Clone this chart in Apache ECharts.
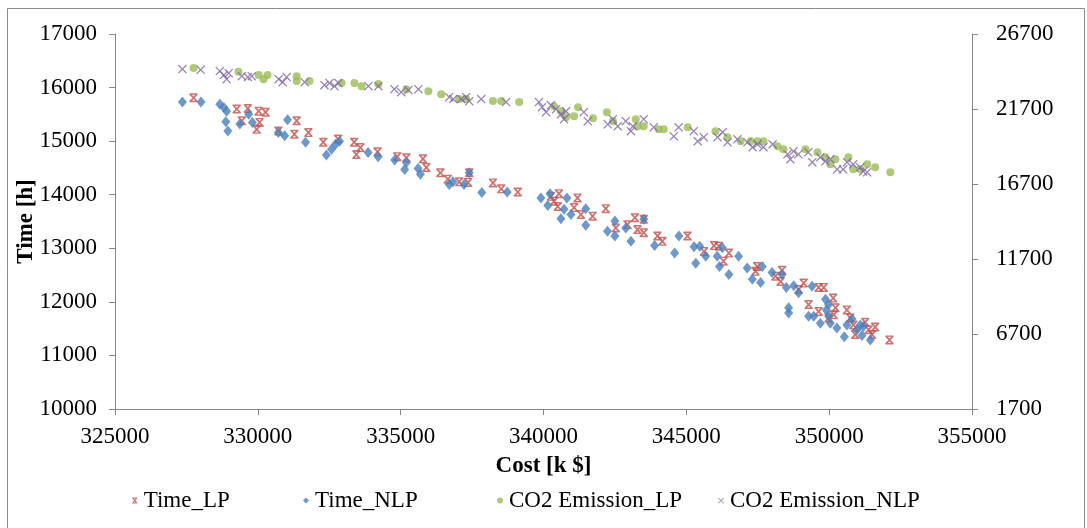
<!DOCTYPE html>
<html><head><meta charset="utf-8">
<script src="https://cdn.jsdelivr.net/npm/echarts@6/dist/echarts.min.js"></script>
<style>html,body{margin:0;padding:0;background:#fff}#c{width:1087px;height:528px}</style>
</head><body><div id="c"></div>
<script>
// ---- data ----
const timeLPCost = [327750,329260,329650,329440,330030,330270,330060,329960,330720,331360,
331280,331770,332290,332810,333370,333590,333450,334190,334880,335200,
335780,335900,336390,336650,337050,337360,337400,338230,338520,339100,
340260,340540,340370,341190,340500,341070,341310,341720,342180,342530,
342940,343200,343290,343510,343510,343990,344160,345040,345620,345970,
346140,346300,346490,347480,347420,348350,348120,348300,349110,348930,
349630,349810,349280,349630,350140,350220,349980,350160,350620,350740,
350850,350910,351260,351380,351500,351610,352110];
const timeLP = [15810,15600,15610,15380,15560,15540,15350,15220,15190,15380,
15130,15160,14980,15040,14980,14880,14750,14800,14710,14690,
14670,14510,14410,14290,14240,14230,14410,14220,14110,14050,
13970,14020,13880,13940,13780,13760,13630,13600,13740,13380,
13440,13570,13350,13290,13540,13230,13130,13230,12940,13050,
13040,12760,12910,12660,12570,12590,12480,12380,12350,12230,
12270,12270,11950,11820,12070,11890,11700,11760,11850,11700,
11570,11390,11620,11480,11390,11530,11290];

const timeNLPCost = [327360,328010,328670,328810,328910,328880,328950,329370,329680,329810,
330720,330940,331040,331670,332400,332580,332720,332860,333860,334210,
334790,335140,335200,335610,335690,336700,336830,337220,337400,337840,
338730,339910,340230,340150,340820,340720,340610,340960,341480,341480,
342240,342500,342500,342880,343060,343510,343890,344590,344740,345270,
345330,345470,345680,346080,346160,346260,346490,346830,347130,347310,
347600,347660,348000,348350,348500,348760,348930,349400,348580,348580,
349280,349460,349690,349870,349980,349900,349980,350040,350270,350620,
350800,350530,350970,351090,351200,351150,351440];
const timeNLP = [15730,15730,15690,15630,15560,15360,15190,15320,15500,15350,
15160,15100,15400,14980,14740,14850,14940,15000,14790,14710,
14650,14470,14600,14490,14380,14190,14240,14190,14410,14040,
14050,13940,14020,13800,13940,13730,13550,13630,13740,13430,
13320,13510,13230,13380,13130,13540,13050,12910,13230,13030,
12720,13040,12850,12850,12660,13010,12510,12850,12630,12420,
12360,12660,12550,12510,12270,12300,12170,12290,11890,11790,
11730,11730,11600,12050,11950,11850,11730,11600,11510,11570,
11680,11350,11480,11570,11540,11370,11290];

const co2LPCost = [327750,329320,330030,330200,330340,331360,331360,331810,332930,333380,
333630,334220,335200,335970,336420,337050,337290,338230,338520,339150,
340370,340610,340790,341070,341210,341730,342220,342430,343230,343300,
343510,344030,344210,345050,346020,346440,346900,347250,347490,347700,
348190,348400,349170,349590,349870,350040,350220,350670,350840,351090,
351330,351610,352140];
const co2LP = [24430,24180,23960,23690,23960,23890,23560,23560,23430,23430,
23220,23360,23020,22890,22690,22360,22360,22240,22240,22160,
21890,21550,21150,21220,21820,21090,21490,20890,21020,20550,
20550,20350,20350,20480,20220,19820,19550,19550,19550,19550,
19210,19010,19010,18810,18480,18010,18350,18480,17680,17680,
18010,17810,17480];

const co2NLPCost = [327360,328000,328670,328810,328910,328980,329440,329650,329790,330730,
330870,331010,331640,332330,332510,332680,332820,333870,334220,334780,
335020,335270,335620,336700,336840,337120,337290,337400,337820,338690,
339840,339950,340090,340260,340440,340610,340720,340790,341410,341550,
342250,342430,342600,342880,343060,343130,343510,343860,344560,344730,
345260,345400,345610,346090,346270,346440,346790,347140,347320,347490,
347700,348020,348540,348640,348750,348920,349270,349410,349690,349870,
350040,350280,350490,350630,350840,351090,351190,351330];
const co2NLP = [24360,24310,24230,23960,23690,24090,23890,23830,23890,23690,
23490,23830,23490,23290,23430,23220,23430,23220,23220,23020,
22820,22960,23020,22490,22360,22360,22490,22220,22360,22160,
22160,21820,21490,21950,21690,21350,21020,21550,21490,20890,
20680,21020,20550,20890,20220,20550,21020,20480,19880,20480,
20220,19550,19820,19820,20150,19480,19680,19480,19150,19350,
19150,19350,18680,18350,18880,18680,18810,18150,18480,18210,
18350,17680,17680,18150,18010,17810,17540,17480];

const seriesNames = ['Time_LP','Time_NLP','CO2 Emission_LP','CO2 Emission_NLP'];
const xAxisName = 'Cost [k $]';
const yAxisName = 'Time [h]';

// ---- chart ----
const FONT = 'Liberation Serif';
const AX = '#868686';
const zip = (a, b) => a.map((v, i) => [v, b[i]]);
const xMark = 'path://M0,1 L1,0 L5,4 L9,0 L10,1 L6,5 L10,9 L9,10 L5,6 L1,10 L0,9 L4,5 Z';
const xBarMark = 'path://M1,0 H9 V1.6 H1 Z M1,8.4 H9 V10 H1 Z M0.5,1 L2,0 L5,3.5 L8,0 L9.5,1 L6.2,5 L9.5,9 L8,10 L5,6.5 L2,10 L0.5,9 L3.8,5 Z';

const chart = echarts.init(document.getElementById('c'), null, {renderer: 'canvas'});
const lbl = {fontFamily: FONT, fontSize: 23, color: '#000'};
const legendBase = {
  top: 484, itemWidth: 6, itemHeight: 6, itemGap: 0,
  textStyle: {fontFamily: FONT, fontSize: 23, color: '#000', padding: [0,0,0,1]}
};
chart.setOption({
  animation: false,
  backgroundColor: '#fff',
  grid: {left: 115, right: 115, top: 34, bottom: 119, containLabel: false},
  graphic: [{type: 'rect', shape: {x: 7.5, y: 8.5, width: 1077, height: 540},
             style: {fill: 'none', stroke: '#8a8a8a', lineWidth: 1}, silent: true}],
  legend: [
    Object.assign({data: [seriesNames[0]], left: 127}, legendBase),
    Object.assign({data: [seriesNames[1]], left: 298}, legendBase),
    Object.assign({data: [seriesNames[2]], left: 492}, legendBase),
    Object.assign({data: [seriesNames[3]], left: 713}, legendBase)
  ],
  xAxis: {
    type: 'value', min: 325000, max: 355000, interval: 5000,
    name: xAxisName, nameLocation: 'middle', nameGap: 46, nameMoveOverlap: false,
    nameTextStyle: {fontFamily: FONT, fontSize: 23, fontWeight: 'bold', color: '#000'},
    axisLine: {show: true, onZero: false, lineStyle: {color: AX, width: 1}},
    axisTick: {show: true, length: 6, lineStyle: {color: AX}},
    splitLine: {show: false},
    axisLabel: Object.assign({margin: 16, formatter: v => String(v)}, lbl)
  },
  yAxis: [{
    type: 'value', position: 'left', min: 10000, max: 17000, interval: 1000,
    name: yAxisName, nameLocation: 'middle', nameGap: 77, nameRotate: 90, nameMoveOverlap: false,
    nameTextStyle: {fontFamily: FONT, fontSize: 23, fontWeight: 'bold', color: '#000'},
    axisLine: {show: true, onZero: false, lineStyle: {color: AX, width: 1}},
    axisTick: {show: true, length: 6, lineStyle: {color: AX}},
    splitLine: {show: false},
    axisLabel: Object.assign({margin: 18, formatter: v => String(v)}, lbl)
  }, {
    type: 'value', position: 'right', min: 1700, max: 26700, interval: 5000,
    axisLine: {show: true, onZero: false, lineStyle: {color: AX, width: 1}},
    axisTick: {show: true, length: 6, lineStyle: {color: AX}},
    splitLine: {show: false},
    axisLabel: Object.assign({margin: 24, formatter: v => String(v)}, lbl)
  }],
  series: [
    {name: seriesNames[0], type: 'scatter', yAxisIndex: 0, symbol: xBarMark, symbolSize: 9,
     itemStyle: {color: '#C0504D'}, data: zip(timeLPCost, timeLP)},
    {name: seriesNames[1], type: 'scatter', yAxisIndex: 0, symbol: 'diamond', symbolSize: [9, 11],
     itemStyle: {color: '#4A7EBB'}, data: zip(timeNLPCost, timeNLP)},
    {name: seriesNames[2], type: 'scatter', yAxisIndex: 1, symbol: 'circle', symbolSize: 8,
     itemStyle: {color: '#9BBB59'}, data: zip(co2LPCost, co2LP)},
    {name: seriesNames[3], type: 'scatter', yAxisIndex: 1, symbol: xMark, symbolSize: 9,
     itemStyle: {color: '#8064A2'}, data: zip(co2NLPCost, co2NLP)}
  ]
});
</script></body></html>
